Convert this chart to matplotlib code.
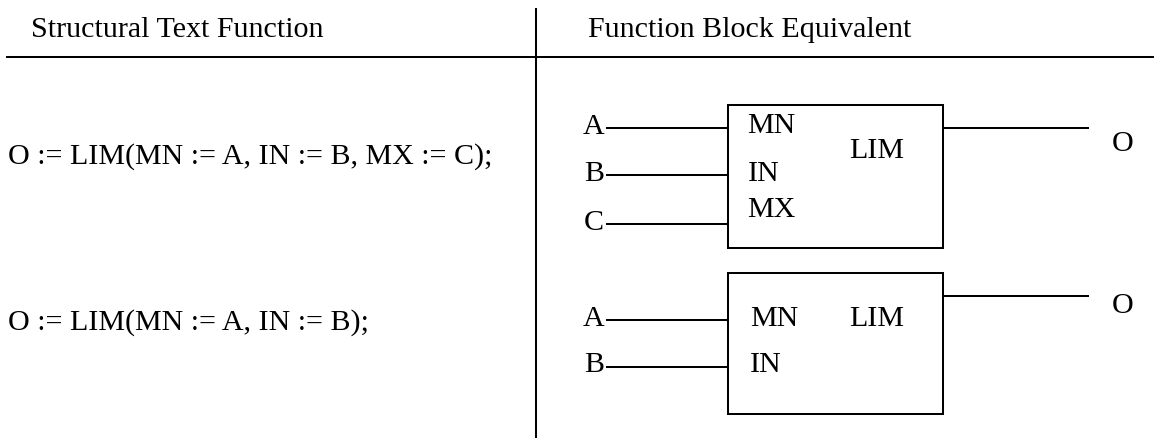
import matplotlib
matplotlib.use("Agg")
import matplotlib.pyplot as plt
from matplotlib.patches import Rectangle

# ---- content ----
header_labels = ["Structural Text Function", "Function Block Equivalent"]
st_expressions = ["O := LIM(MN := A, IN := B, MX := C);", "O := LIM(MN := A, IN := B);"]
func_name = "LIM"
output_name = "O"
block_inputs = [["A", "B", "C"], ["A", "B"]]
block_pins = [["MN", "IN", "MX"], ["MN", "IN"]]

# ---- layout (pixel units, y downward) ----
W, H = 1154, 439
FONT = "Liberation Serif"
FS = 21.6
LW = 1.45

fig = plt.figure(figsize=(W / 100, H / 100), dpi=100)
ax = fig.add_axes([0, 0, 1, 1])
ax.set_xlim(0, W)
ax.set_ylim(H, 0)
ax.axis("off")

def txt(x, y, s, ha="left"):
    ax.text(x, y, s, fontsize=FS, family=FONT, ha=ha, va="baseline", color="black")

def line(xs, ys):
    ax.plot(xs, ys, color="black", lw=LW, solid_capstyle="butt")

# table frame
line([6, W], [58, 58])
line([536, 536], [9, H])
txt(31, 37, header_labels[0])
txt(588, 37, header_labels[1])

# structured text expressions
expr_baselines = [164, 330]
for s, yb in zip(st_expressions, expr_baselines):
    txt(8, yb, s)

# function blocks
boxes = [(728, 106, 943, 249), (728, 274, 943, 415)]
input_lines_y = [[129, 176, 225], [321, 368]]
label_baselines = [[134, 181, 230], [326, 372]]
pin_x = [[747, 748, 747], [750, 750]]
pin_baselines = [[133, 181, 217], [326, 372]]
lim_baselines = [158, 326]
out_line_y = [129, 297]
out_baselines = [151, 313]

for i in range(len(boxes)):
    x0, y0, x1, y1 = boxes[i]
    ax.add_patch(Rectangle((x0, y0), x1 - x0, y1 - y0, fill=False, ec="black", lw=LW))
    for name, ly, lb in zip(block_inputs[i], input_lines_y[i], label_baselines[i]):
        line([606, x0], [ly, ly])
        txt(604, lb, name, ha="right")
    for pin, px, pb in zip(block_pins[i], pin_x[i], pin_baselines[i]):
        txt(px, pb, pin)
    txt(849, lim_baselines[i], func_name)
    line([x1, 1089], [out_line_y[i], out_line_y[i]])
    txt(1112, out_baselines[i], output_name)

fig.savefig("out.png", dpi=100, facecolor="white")
